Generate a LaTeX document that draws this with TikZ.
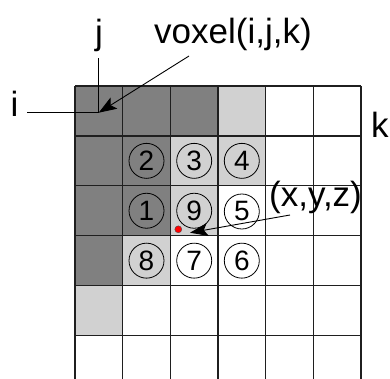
\documentclass[tikz,border=0pt]{standalone}
\usepackage{fontspec}
\setmainfont{Liberation Sans}
\usetikzlibrary{arrows.meta}
\definecolor{darkcell}{gray}{0.5}
\definecolor{lightcell}{gray}{0.82}
\definecolor{gridline}{gray}{0.12}
\begin{document}
\begin{tikzpicture}[x=1pt,y=-1pt,
  numc/.style={circle,draw,line width=0.8pt,minimum size=35pt,inner sep=0pt,font=\fontsize{28}{28}\selectfont},
  lab/.style={inner sep=0pt,font=\fontsize{35}{35}\selectfont},
  gridl/.style={draw=gridline,line width=1.3pt},
  conn/.style={line width=0.9pt},
  arr/.style={conn,-{Stealth[length=18pt,width=13pt,inset=4pt]}}]
\useasboundingbox (0,0) rectangle (390,379);
\def\cw{47.667}\def\rh{49.9}
% shaded cells
\foreach \r/\c in {0/0,0/1,0/2,1/0,1/1,2/0,2/1,3/0}
  \fill[darkcell] ({75+\c*\cw},{86+\r*\rh}) rectangle ++(\cw,\rh);
\foreach \r/\c in {0/3,1/2,1/3,2/2,3/1,4/0}
  \fill[lightcell] ({75+\c*\cw},{86+\r*\rh}) rectangle ++(\cw,\rh);
% grid
\foreach \c in {0,...,6}
  \draw[gridl] ({75+\c*\cw},86) -- ({75+\c*\cw},379);
\foreach \r in {0,...,5}
  \draw[gridl] (75,{86+\r*\rh}) -- (361,{86+\r*\rh});
% numbered circles
\node[numc] (n2) at (146.5,160.85) {2};
\node[numc] (n3) at (194.2,160.85) {3};
\node[numc] (n4) at (241.8,160.85) {4};
\node[numc] (n1) at (146.5,210.75) {1};
\node[numc] (n9) at (194.2,210.75) {9};
\node[numc] (n5) at (241.8,211.5) {5};
\node[numc] (n8) at (146.5,260.65) {8};
\node[numc] (n7) at (194.2,260.65) {7};
\node[numc] (n6) at (241.8,260.65) {6};
% labels
\node[lab,anchor=base] (i) at (14.5,117) {i};
\node[lab,anchor=base] (j) at (99,45) {j};
\node[lab,anchor=base west] (vox) at (154,43.3) {voxel(i,j,k)};
\node[lab,anchor=base west] (k) at (371,138) {k};
\node[lab,anchor=base west] (xyz) at (269,207) {(x,y,z)};
% point
\node[circle,fill=red,draw=black!70,line width=0.4pt,minimum size=7pt,inner sep=0pt] (pt) at (178.3,229.3) {};
% connectors
\coordinate (ij) at (98.7,112.7);
\coordinate (iend) at (27,112.7);
\coordinate (jend) at (98.7,58);
\coordinate (vstart) at (189,56);
\coordinate (xstart) at (290,215);
\coordinate (ptip) at (190,232.7);
\draw[conn] (iend) -- (ij) -- (jend);
\draw[arr] (vstart) -- (ij);
\draw[arr] (xstart) -- (ptip);
\end{tikzpicture}
\end{document}
